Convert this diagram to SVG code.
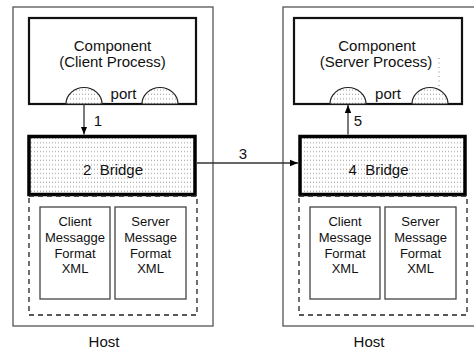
<svg xmlns="http://www.w3.org/2000/svg" width="474" height="354" viewBox="0 0 474 354">
<style>
text{font-family:"Liberation Sans",Arial,sans-serif;fill:#111;text-anchor:middle}
.t15{font-size:15px}
.t13{font-size:13px}
.host{fill:#fff;stroke:#555;stroke-width:1.3}
.comp{fill:#fff;stroke:#111;stroke-width:2.2}
.bridge{fill:url(#dots);stroke:#000;stroke-width:3.5}
.dash{fill:none;stroke:#222;stroke-width:1.3;stroke-dasharray:5 4}
.msg{fill:#fff;stroke:#444;stroke-width:1.3}
.port{fill:url(#dots);stroke:#222;stroke-width:1.2}
.conn{fill:none;stroke:#333;stroke-width:1.3}
</style>
<defs>
<pattern id="dots" width="3" height="4.4" patternUnits="userSpaceOnUse">
<rect width="3" height="4.4" fill="#fff"/>
<rect x="1" y="1.5" width="1" height="1" fill="#999"/>
</pattern>
<marker id="arr" markerUnits="userSpaceOnUse" markerWidth="8" markerHeight="8" viewBox="0 0 8 8" refX="8" refY="4" orient="auto">
<path d="M0,0.8 L8,4 L0,7.2 Z" fill="#000"/>
</marker>
</defs>

<g id="host-left">
<rect class="host" x="13" y="7" width="200" height="319"/>
<text class="t15" x="104" y="347">Host</text>
</g>
<g id="host-right">
<rect class="host" x="283" y="7" width="200" height="319"/>
<text class="t15" x="369" y="347">Host</text>
</g>

<g id="component-client">
<rect class="comp" x="29" y="18" width="167" height="86"/>
<text class="t15" x="112.5" y="51">Component</text>
<text class="t15" x="112.5" y="67">(Client Process)</text>
<path class="port" d="M66,104 A18,16.5 0 0 1 102,104 Z"/>
<path class="port" d="M142,104 A18,16.5 0 0 1 178,104 Z"/>
<text class="t15" x="123.5" y="99">port</text>
</g>

<g id="component-server">
<rect class="comp" x="294" y="18" width="168" height="86"/>
<text class="t15" x="377" y="51">Component</text>
<text class="t15" x="376" y="67">(Server Process)</text>
<path class="port" d="M330,104 A18,16.5 0 0 1 366,104 Z"/>
<path class="port" d="M412,104 A18,16.5 0 0 1 448,104 Z"/>
<text class="t15" x="388" y="99">port</text>
<line x1="439" y1="58" x2="439" y2="89" stroke="#888" stroke-width="1" stroke-dasharray="1 3.5"/>
</g>

<g id="bridge-left">
<rect class="bridge" x="29" y="136.5" width="166" height="58"/>
<text class="t15" x="113" y="175" xml:space="preserve">2  Bridge</text>
</g>
<g id="bridge-right">
<rect class="bridge" x="300" y="136.5" width="165" height="58"/>
<text class="t15" x="378.5" y="175" xml:space="preserve">4  Bridge</text>
</g>

<g id="formats-left">
<rect class="dash" x="29" y="196" width="168" height="119"/>
<g id="client-format-left">
<rect class="msg" x="40" y="207" width="70" height="92"/>
<text class="t13" x="75" y="226">Client</text>
<text class="t13" x="75" y="242">Messagge</text>
<text class="t13" x="75" y="257.5">Format</text>
<text class="t13" x="75" y="273">XML</text>
</g>
<g id="server-format-left">
<rect class="msg" x="115" y="207" width="71" height="92"/>
<text class="t13" x="150.5" y="226">Server</text>
<text class="t13" x="150.5" y="242">Message</text>
<text class="t13" x="150.5" y="257.5">Format</text>
<text class="t13" x="150.5" y="273">XML</text>
</g>
</g>

<g id="formats-right">
<rect class="dash" x="299" y="196" width="168" height="119"/>
<g id="client-format-right">
<rect class="msg" x="310" y="207" width="70" height="92"/>
<text class="t13" x="345" y="226">Client</text>
<text class="t13" x="345" y="242">Message</text>
<text class="t13" x="345" y="257.5">Format</text>
<text class="t13" x="345" y="273">XML</text>
</g>
<g id="server-format-right">
<rect class="msg" x="385" y="207" width="71" height="92"/>
<text class="t13" x="420.5" y="226">Server</text>
<text class="t13" x="420.5" y="242">Message</text>
<text class="t13" x="420.5" y="257.5">Format</text>
<text class="t13" x="420.5" y="273">XML</text>
</g>
</g>

<g id="connectors">
<line class="conn" x1="84" y1="104" x2="84" y2="134.5" marker-end="url(#arr)"/>
<text class="t15" x="98" y="126">1</text>
<line class="conn" x1="197" y1="163" x2="298" y2="163" marker-end="url(#arr)"/>
<text class="t15" x="243" y="159">3</text>
<line class="conn" x1="348" y1="134.5" x2="348" y2="105" marker-end="url(#arr)"/>
<text class="t15" x="358" y="126">5</text>
</g>
</svg>
